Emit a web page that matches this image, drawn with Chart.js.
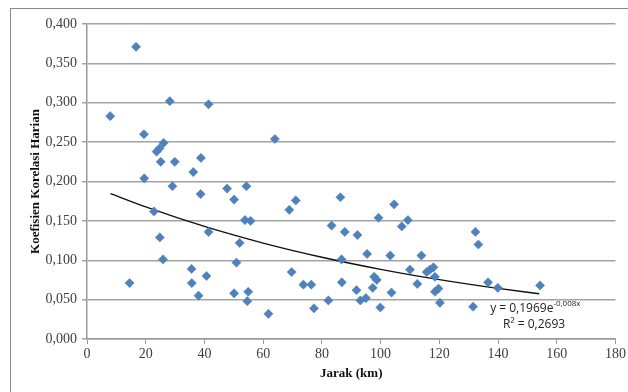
<!DOCTYPE html>
<html>
<head>
<meta charset="utf-8">
<script src="https://cdn.jsdelivr.net/npm/chart.js@4/dist/chart.umd.min.js"></script>
<style>
  html, body { margin: 0; padding: 0; background: #fff; overflow: hidden; }
  #wrap { position: relative; width: 628px; height: 392px; }
  #frame { position: absolute; left: 10px; top: 8px; width: 640px; height: 400px; border: 1px solid #8a8a8a; box-sizing: border-box; }
  canvas { position: absolute; left: 0; top: 0; }
</style>
</head>
<body>
<div id="wrap">
  <div id="frame"></div>
  <canvas id="chart" width="628" height="392"></canvas>
</div>
<script>
// jarak (km) and koefisien korelasi harian
const jarak = [
  7.9, 16.7, 14.5, 19.4, 19.5, 22.8, 23.7, 24.7, 26.1, 25.1,
  24.8, 25.9, 28.2, 29.1, 29.9, 36.2, 35.6, 35.7, 38.0, 38.8,
  38.7, 41.4, 40.7, 41.4, 47.7, 50.1, 50.1, 50.9, 52.0, 53.8,
  54.3, 54.9, 54.6, 55.7, 61.8, 64.0, 68.9, 69.7, 71.1, 73.7,
  76.4, 77.3, 82.2, 83.3, 86.3, 86.7, 86.8, 87.8, 92.1, 91.8,
  93.1, 95.0, 95.4, 97.3, 97.8, 98.7, 99.3, 99.9, 103.3, 103.7,
  104.6, 107.2, 109.3, 110.0, 112.5, 113.9, 115.7, 116.8, 118.0, 118.5,
  118.5, 119.7, 120.2, 131.5, 132.3, 133.3, 136.6, 139.9, 154.3
];
const korelasi = [
  0.283, 0.371, 0.071, 0.260, 0.204, 0.162, 0.238, 0.242, 0.249, 0.225,
  0.129, 0.101, 0.302, 0.194, 0.225, 0.212, 0.089, 0.071, 0.055, 0.230,
  0.184, 0.298, 0.080, 0.136, 0.191, 0.177, 0.058, 0.097, 0.122, 0.151,
  0.194, 0.060, 0.048, 0.150, 0.032, 0.254, 0.164, 0.085, 0.176, 0.069,
  0.069, 0.039, 0.049, 0.144, 0.180, 0.101, 0.072, 0.136, 0.132, 0.062,
  0.049, 0.052, 0.108, 0.065, 0.079, 0.075, 0.154, 0.040, 0.106, 0.059,
  0.171, 0.143, 0.151, 0.088, 0.070, 0.106, 0.085, 0.088, 0.091, 0.079,
  0.060, 0.064, 0.046, 0.041, 0.136, 0.120, 0.072, 0.065, 0.068
];

// exponential trendline as printed on the chart: y = 0,1969e^-0,008x
const trendA = 0.1969;
const trendB = -0.008;
const trendX = [8, 20, 40, 60, 80, 100, 120, 140, 154];

const xTicks = [0, 20, 40, 60, 80, 100, 120, 140, 160, 180];

const points = jarak.map((x, i) => ({ x: x, y: korelasi[i] }));
const trend = trendX.map((x) => ({ x: x, y: trendA * Math.exp(trendB * x) }));

const fmt = (v) => v.toFixed(3).replace(".", ",");

const eqLabel = {
  id: "eqLabel",
  afterDraw(chart) {
    const ctx = chart.ctx;
    const xs = chart.scales.x;
    const ys = chart.scales.y;
    ctx.save();
    ctx.fillStyle = "#222";
    ctx.textAlign = "left";
    ctx.textBaseline = "alphabetic";
    let px = xs.getPixelForValue(137.3);
    let py = ys.getPixelForValue(0.0345);
    ctx.font = '12px "Open Sans"';
    const main = "y = 0,1969e";
    ctx.fillText(main, px, py);
    const w = ctx.measureText(main).width;
    ctx.font = '8px "Open Sans"';
    ctx.fillText("-0,008x", px + w, py - 6);
    ctx.font = '12px "Open Sans"';
    ctx.fillText("R\u00B2 = 0,2693", xs.getPixelForValue(141.7), ys.getPixelForValue(0.014));
    ctx.restore();
  }
};

new Chart(document.getElementById("chart"), {
  type: "scatter",
  data: {
    datasets: [
      {
        data: points,
        pointStyle: "rectRot",
        pointRadius: 4.6,
        backgroundColor: "#4f81bd",
        borderColor: "#4a7ebb",
        borderWidth: 0.5
      },
      {
        type: "line",
        data: trend,
        borderColor: "#111",
        borderWidth: 1.4,
        pointRadius: 0,
        cubicInterpolationMode: "monotone",
        tension: 0.4,
        fill: false
      }
    ]
  },
  options: {
    responsive: false,
    animation: false,
    layout: { padding: { left: 0, right: 8, top: 24, bottom: 0 } },
    plugins: { legend: { display: false }, tooltip: { enabled: false } },
    scales: {
      x: {
        type: "linear",
        min: 0,
        max: 180,
        afterBuildTicks: (s) => { s.ticks = xTicks.map((v) => ({ value: v })); },
        afterFit: (s) => { s.height = 53; },
        grid: { drawOnChartArea: false, drawTicks: true, tickLength: 5, color: "#9a9a9a" },
        border: { color: "#9a9a9a", width: 1.5 },
        ticks: { color: "#404040", font: { family: "Liberation Serif", size: 14 }, padding: 2 },
        title: {
          display: true,
          text: "Jarak (km)",
          color: "#111",
          font: { family: "Liberation Serif", size: 13, weight: "bold" },
          padding: { top: 0, bottom: 11 }
        }
      },
      y: {
        min: 0,
        max: 0.4,
        afterFit: (s) => { s.width = 87; },
        grid: { drawTicks: true, tickLength: 5, color: "#a3a3a3", lineWidth: 1.5 },
        border: { color: "#9a9a9a", width: 1.5 },
        ticks: {
          stepSize: 0.05,
          color: "#404040",
          font: { family: "Liberation Serif", size: 14 },
          padding: 5,
          callback: (v) => fmt(v)
        },
        title: {
          display: true,
          text: "Koefisien Korelasi Harian",
          color: "#111",
          font: { family: "Liberation Serif", size: 13, weight: "bold" },
          padding: { top: 28, bottom: 0 }
        }
      }
    }
  },
  plugins: [eqLabel]
});
</script>
</body>
</html>
